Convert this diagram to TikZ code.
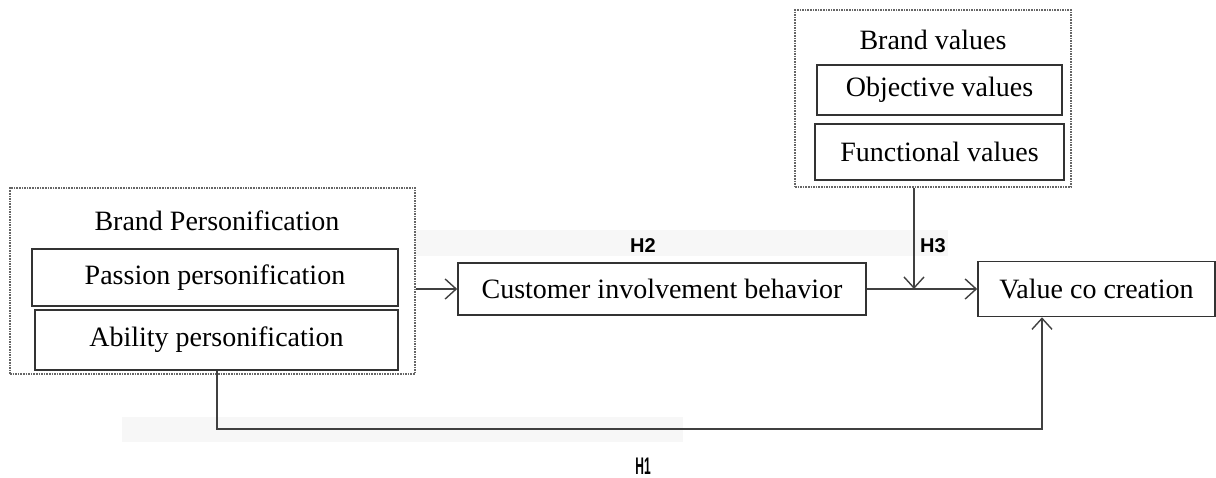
\documentclass[tikz,border=0pt]{standalone}
\usepackage{fontspec}
\setmainfont{Liberation Serif}
\newfontfamily\hfont{Liberation Sans}
\usetikzlibrary{arrows.meta,calc}
\tikzset{
  itembox/.style={draw=black!80, line width=1.6pt, inner sep=0pt, font=\fontsize{28}{32}\selectfont},
  groupbox/.style={draw=black!60, line width=1.3pt, dash pattern=on 1.6pt off 1pt},
  conn/.style={draw=black!75, line width=1.5pt},
  arr/.style={conn, -{Straight Barb[length=11pt,width=20pt,line width=1.4pt]}},
  hyp/.style={font=\hfont\bfseries\fontsize{20}{22}\selectfont, inner sep=0pt},
  title/.style={font=\fontsize{28}{32}\selectfont, inner sep=0pt},
  band/.style={fill=black!3, draw=none}
}
\begin{document}
\begin{tikzpicture}[x=1pt,y=-1pt]
\useasboundingbox (0,0) rectangle (1216,477);
\fill[white] (0,0) rectangle (1216,477);

% faint label bands
\path[band] (415,230) rectangle (948,256);
\path[band] (122,417) rectangle (683,442);

% Brand personification group
\node[groupbox, minimum width=405pt, minimum height=186pt, inner sep=0pt] (bp) at (212.5,281) {};
\node[title] (bpt) at (217,221) {Brand Personification};
\node[itembox, minimum width=366pt, minimum height=57pt] (pp) at (215,277.5) {Passion personification};
\node[itembox, minimum width=363pt, minimum height=60pt] (ap) at (216.5,340) {Ability personification};

% Brand values group
\node[groupbox, minimum width=276pt, minimum height=177pt, inner sep=0pt] (bv) at (933,98.5) {};
\node[title] (bvt) at (933,40) {Brand values};
\node[itembox, minimum width=245pt, minimum height=50pt] (ov) at (939.5,90) {Objective values};
\node[itembox, minimum width=249pt, minimum height=56pt] (fv) at (939.5,152) {Functional values};

% Mediator and outcome
\node[itembox, minimum width=408pt, minimum height=52pt] (cib) at (662,289) {Customer involvement behavior};
\node[itembox, minimum width=237pt, minimum height=55pt] (vcc) at (1096.5,289) {Value co creation};

% routing points
\coordinate (j) at (914,289);
\coordinate (c1) at (1042,429);

% connectors
\draw[arr] (bp.east |- cib.west) -- (cib.west);
\draw[conn] (cib.east) -- (j);
\draw[arr] (j) -- (vcc.west);
\draw[arr] (j |- bv.south) -- (j);
\draw[arr] (ap.south -| 217,0) |- (c1) -- (c1 |- vcc.south);

% hypothesis labels
\node[hyp] (h2) at (643,246) {H2};
\node[hyp] (h3) at (933,246) {H3};
\node[hyp, font=\hfont\bfseries\fontsize{24}{26}\selectfont, xscale=0.5, transform shape] (h1) at (643,466) {H1};
\end{tikzpicture}
\end{document}
